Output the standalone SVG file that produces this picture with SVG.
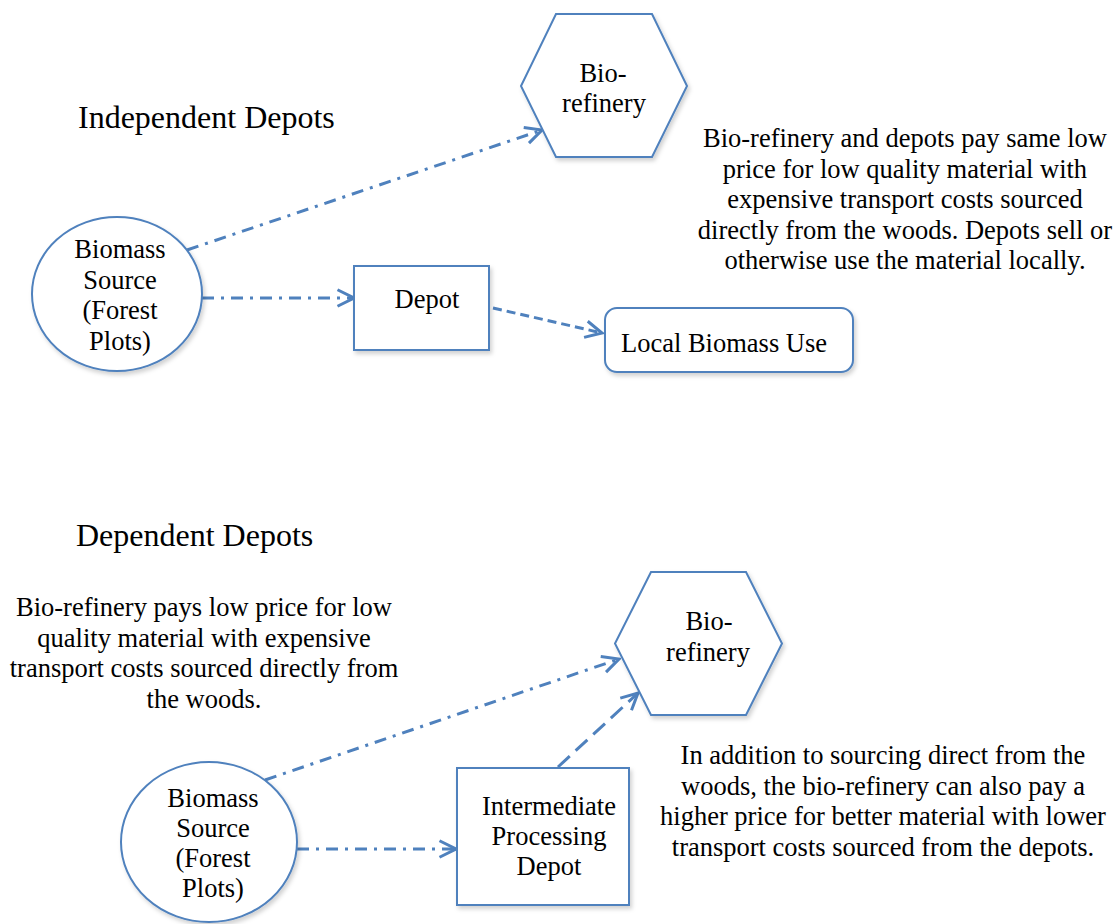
<svg xmlns="http://www.w3.org/2000/svg" width="1119" height="924" viewBox="0 0 1119 924">
<style>
text { font-family: "Liberation Serif", "Times New Roman", serif; fill: #000; }
.t { font-size: 26.5px; text-anchor: middle; }
.title { font-size: 32px; }
.shape { fill: #fff; stroke: #4F81BD; stroke-width: 2; filter: url(#sh); }
.c { fill: none; stroke: #4F81BD; stroke-width: 3; marker-end: url(#arr); }
.dd { stroke-dasharray: 12 7 3 7; }
.ds { stroke-dasharray: 9 5; }
.dl { stroke-dasharray: 16 8; }
</style>
<defs>
<filter id="sh" x="-10%" y="-10%" width="130%" height="130%">
<feDropShadow dx="2" dy="3" stdDeviation="2" flood-color="#000" flood-opacity="0.18"/>
</filter>
<marker id="arr" viewBox="0 0 14 14" refX="12.5" refY="7" markerWidth="21" markerHeight="21" markerUnits="userSpaceOnUse" orient="auto">
<path d="M1.5,1.5 L12.5,7 L1.5,12.5" fill="none" stroke="#4F81BD" stroke-width="2" stroke-dasharray="none"/>
</marker>
</defs>
<rect width="1119" height="924" fill="#fff"/>

<text class="title" x="78" y="128">Independent Depots</text>
<text class="title" x="76" y="546">Dependent Depots</text>

<g id="connectors">
<line class="c dd" x1="187" y1="250" x2="542" y2="130"/>
<line class="c dd" x1="202" y1="298" x2="354" y2="298"/>
<line class="c ds" x1="493" y1="308" x2="602" y2="333"/>
<line class="c dd" x1="265" y1="780" x2="619" y2="659"/>
<line class="c dd" x1="297" y1="849" x2="456" y2="849"/>
<line class="c dl" x1="558" y1="767" x2="638" y2="693"/>
</g>

<g id="biorefinery-top">
<polygon class="shape" points="556,14 652,14 687,86 652,157 556,157 521,86"/>
<text class="t" x="603" y="82">Bio-</text>
<text class="t" x="604" y="112">refinery</text>
</g>

<g id="biomass-top">
<ellipse class="shape" cx="117" cy="294" rx="85" ry="77"/>
<text class="t" x="120" y="258">Biomass</text>
<text class="t" x="120" y="289">Source</text>
<text class="t" x="120" y="319">(Forest</text>
<text class="t" x="120" y="350">Plots)</text>
</g>

<g id="depot-top">
<rect class="shape" x="354" y="266" width="135" height="84"/>
<text class="t" x="427" y="308">Depot</text>
</g>

<g id="local-use">
<rect class="shape" x="605" y="308" width="248" height="64" rx="12" ry="12"/>
<text class="t" x="724" y="352">Local Biomass Use</text>
</g>

<g id="note-top">
<text class="t" x="905" y="147">Bio-refinery and depots pay same low</text>
<text class="t" x="905" y="177.5">price for low quality material with</text>
<text class="t" x="905" y="208">expensive transport costs sourced</text>
<text class="t" x="905" y="238.5">directly from the woods. Depots sell or</text>
<text class="t" x="905" y="269">otherwise use the material locally.</text>
</g>

<g id="note-left">
<text class="t" x="204" y="616">Bio-refinery pays low price for low</text>
<text class="t" x="204" y="646.5">quality material with expensive</text>
<text class="t" x="204" y="677">transport costs sourced directly from</text>
<text class="t" x="204" y="707.5">the woods.</text>
</g>

<g id="biorefinery-bottom">
<polygon class="shape" points="651,572 746,572 782,643.5 746,715 651,715 615,643.5"/>
<text class="t" x="709" y="630">Bio-</text>
<text class="t" x="708" y="661">refinery</text>
</g>

<g id="biomass-bottom">
<ellipse class="shape" cx="209" cy="842" rx="88" ry="80"/>
<text class="t" x="213" y="807">Biomass</text>
<text class="t" x="213" y="837">Source</text>
<text class="t" x="213" y="867">(Forest</text>
<text class="t" x="213" y="897">Plots)</text>
</g>

<g id="depot-intermediate">
<rect class="shape" x="457" y="768" width="172" height="137"/>
<text class="t" x="549" y="815">Intermediate</text>
<text class="t" x="549" y="845">Processing</text>
<text class="t" x="549" y="875">Depot</text>
</g>

<g id="note-bottom">
<text class="t" x="883" y="764">In addition to sourcing direct from the</text>
<text class="t" x="883" y="794.5">woods, the bio-refinery can also pay a</text>
<text class="t" x="883" y="825">higher price for better material with lower</text>
<text class="t" x="883" y="855.5">transport costs sourced from the depots.</text>
</g>
</svg>
